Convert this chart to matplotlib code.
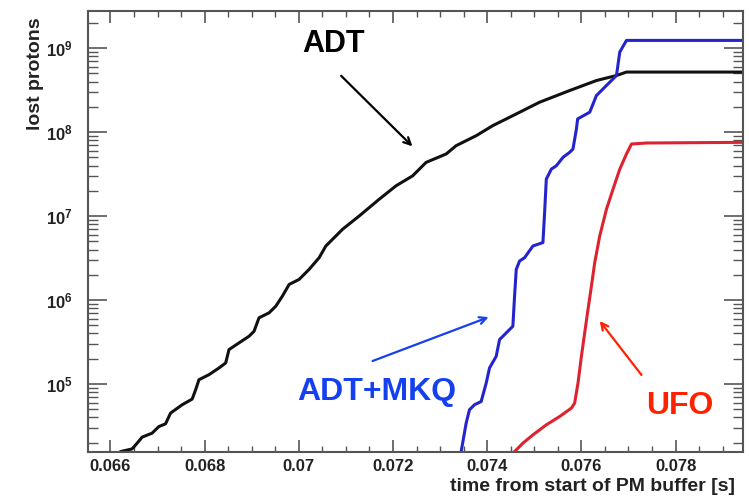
import matplotlib.pyplot as plt
import numpy as np
from matplotlib.ticker import FixedLocator, MultipleLocator, LogLocator, NullFormatter

plt.rcParams['font.family'] = ['Liberation Sans', 'DejaVu Sans']
plt.rcParams['font.weight'] = 'bold'
plt.rcParams['mathtext.fontset'] = 'custom'
plt.rcParams['mathtext.rm'] = 'Liberation Sans:bold'
plt.rcParams['mathtext.bf'] = 'Liberation Sans:bold'

# ADT (black) - time [s], log10(lost protons)
adt_t = [0.06618, 0.066213, 0.06646, 0.066566, 0.066672, 0.066885, 0.067028, 0.06717,
         0.067277, 0.067523, 0.067736, 0.067809, 0.067879, 0.068091, 0.068304, 0.068447,
         0.068517, 0.06873, 0.068943, 0.069049, 0.069155, 0.069368, 0.069511, 0.069651,
         0.069794, 0.070006, 0.070219, 0.070432, 0.070574, 0.070928, 0.071283, 0.071709,
         0.072064, 0.072417, 0.072702, 0.073128, 0.07334, 0.073766, 0.074119, 0.074545,
         0.075113, 0.075751, 0.076319, 0.076745, 0.076957, 0.07945]
adt_log = [4.15, 4.195, 4.227, 4.295, 4.367, 4.415, 4.493, 4.526,
           4.654, 4.753, 4.821, 4.932, 5.051, 5.111, 5.191, 5.251,
           5.41, 5.49, 5.569, 5.628, 5.789, 5.848, 5.927, 6.047,
           6.186, 6.246, 6.366, 6.505, 6.644, 6.843, 7.002, 7.202,
           7.361, 7.48, 7.64, 7.74, 7.839, 7.958, 8.078, 8.197,
           8.357, 8.496, 8.615, 8.675, 8.716, 8.716]

# ADT+MKQ (blue)
mkq_t = [0.07342, 0.073447, 0.073553, 0.073623, 0.07373, 0.073872, 0.073979, 0.074049,
         0.074191, 0.074262, 0.074475, 0.074545, 0.074581, 0.074617, 0.074687, 0.074794,
         0.07497, 0.075183, 0.075219, 0.075255, 0.075362, 0.075468, 0.075609, 0.075751,
         0.075821, 0.075894, 0.075921, 0.076177, 0.076319, 0.076532, 0.076745, 0.076815,
         0.076957, 0.07945]
mkq_log = [4.1, 4.195, 4.534, 4.693, 4.753, 4.792, 5.012, 5.191,
           5.33, 5.529, 5.649, 5.688, 6.047, 6.366, 6.465, 6.505,
           6.644, 6.685, 7.043, 7.441, 7.56, 7.6, 7.7, 7.76,
           7.799, 8.038, 8.158, 8.238, 8.436, 8.556, 8.675, 8.955,
           9.093, 9.093]

# UFO (red)
ufo_t = [0.07452, 0.074581, 0.074757, 0.07497, 0.075255, 0.075538, 0.075787, 0.075857,
         0.075928, 0.076, 0.07607, 0.07614, 0.076213, 0.076283, 0.076389, 0.076532,
         0.076672, 0.076815, 0.076957, 0.077064, 0.077383, 0.07945]
ufo_log = [4.15, 4.195, 4.295, 4.394, 4.514, 4.613, 4.713, 4.773,
           5.012, 5.33, 5.609, 5.888, 6.166, 6.446, 6.763, 7.082,
           7.321, 7.56, 7.74, 7.859, 7.871, 7.879]

xtick_vals = [0.066, 0.068, 0.070, 0.072, 0.074, 0.076, 0.078]
xtick_labels = ['0.066', '0.068', '0.07', '0.072', '0.074', '0.076', '0.078']
ytick_vals = [1e5, 1e6, 1e7, 1e8, 1e9]
ytick_labels = [r'$\mathbf{10^{5}}$', r'$\mathbf{10^{6}}$', r'$\mathbf{10^{7}}$',
                r'$\mathbf{10^{8}}$', r'$\mathbf{10^{9}}$']

fig = plt.figure(figsize=(7.49, 4.99), dpi=100)
ax = fig.add_axes([0.1179, 0.0942, 0.874, 0.8844])

ax.plot(adt_t, 10 ** np.array(adt_log), color='#111111', lw=2.2)
ax.plot(mkq_t, 10 ** np.array(mkq_log), color='#2424cc', lw=2.2)
ax.plot(ufo_t, 10 ** np.array(ufo_log), color='#dd2230', lw=2.2)

ax.set_yscale('log')
ax.set_xlim(0.06553, 0.07943)
ax.set_ylim(1.55e4, 2.8e9)

ax.xaxis.set_major_locator(FixedLocator(xtick_vals))
ax.set_xticklabels(xtick_labels)
ax.xaxis.set_minor_locator(MultipleLocator(0.0005))
ax.yaxis.set_major_locator(FixedLocator(ytick_vals))
ax.set_yticklabels(ytick_labels)
ax.yaxis.set_minor_locator(LogLocator(base=10, subs=np.arange(2, 10)))
ax.yaxis.set_minor_formatter(NullFormatter())

ax.tick_params(axis='both', which='both', direction='in', top=True, right=True,
               color='#555555', labelcolor='#222222', labelsize=12)
ax.tick_params(axis='x', which='major', length=8.6, width=1.2, pad=5)
ax.tick_params(axis='x', which='minor', length=4.3, width=1.0)
ax.tick_params(axis='y', which='major', length=13.7, width=1.2, pad=11)
ax.tick_params(axis='y', which='minor', length=7, width=1.0)
for s in ax.spines.values():
    s.set_color('#555555')
    s.set_linewidth(1.5)

ax.set_xlabel('time from start of PM buffer [s]', fontsize=14, fontweight='bold',
              color='#222222', loc='right')
ax.xaxis.set_label_coords(0.988, -0.058)
ax.set_ylabel('lost protons', fontsize=14, fontweight='bold', color='#222222', loc='top')
ax.yaxis.set_label_coords(-0.068, 0.985)

# annotations
ax.annotate('', xy=(0.072453, 6.43e7), xytext=(0.070857, 4.95e8),
            arrowprops=dict(arrowstyle='->,head_length=0.5,head_width=0.25', color='black', lw=1.6))
ax.text(0.07073, 1.12e9, 'ADT', fontsize=22, fontweight='bold', color='black',
        ha='center', va='center')
ax.annotate('', xy=(0.074085, 6.43e5), xytext=(0.071511, 1.83e5),
            arrowprops=dict(arrowstyle='->,head_length=0.5,head_width=0.25', color='#1440f0', lw=1.6))
ax.text(0.071645, 8.0e4, 'ADT+MKQ', fontsize=23, fontweight='bold', color='#1440f0',
        ha='center', va='center')
ax.annotate('', xy=(0.076353, 5.98e5), xytext=(0.077311, 1.21e5),
            arrowprops=dict(arrowstyle='->,head_length=0.5,head_width=0.25', color='#ff2200', lw=1.6))
ax.text(0.078092, 5.5e4, 'UFO', fontsize=23, fontweight='bold', color='#ff2200',
        ha='center', va='center')

fig.savefig('out.png', dpi=100)
